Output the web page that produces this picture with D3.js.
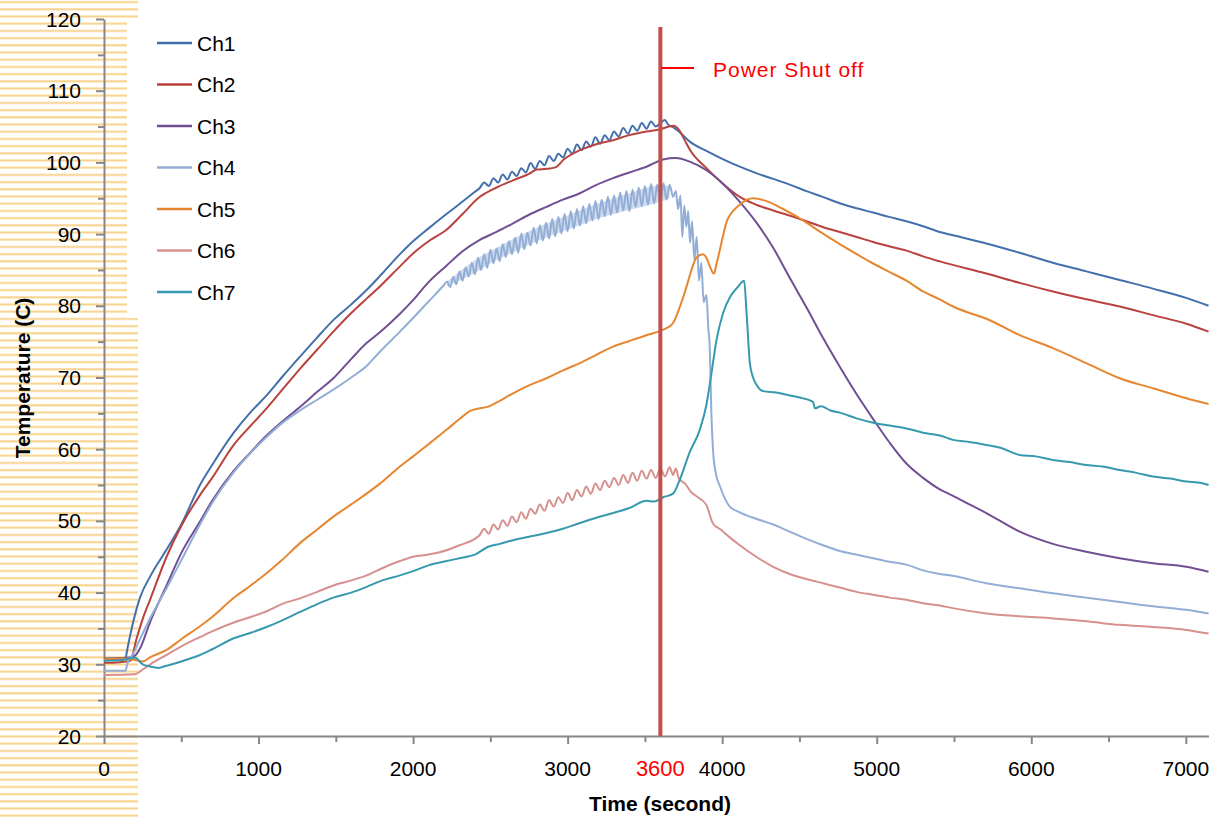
<!DOCTYPE html>
<html>
<head>
<meta charset="utf-8">
<script src="https://cdn.jsdelivr.net/npm/d3@7"></script>
<style>
html,body{margin:0;padding:0;background:#fff;}
svg{display:block;font-family:"Liberation Sans",Arial,sans-serif;}
</style>
</head>
<body>
<svg id="chart" width="1209" height="817"></svg>
<script>
// ---------------- DATA ----------------
const seriesNames = ["Ch1","Ch2","Ch3","Ch4","Ch5","Ch6","Ch7"];
const xTickValues = [0,1000,2000,3000,4000,5000,6000,7000];
const yTickValues = [20,30,40,50,60,70,80,90,100,110,120];
const shutOffTime = 3600;
const shutOffLabel = "Power Shut off";
const xTitle = "Time (second)";
const yTitle = "Temperature (C)";

const ch1 = [[0,30.6],[100,30.7],[140,30.9],[150,32.0],[190,36.0],[233,39.3],[300,42.3],[405,46.0],[500,49.5],[621,55.0],[700,57.8],[836,62.2],[950,65.2],[1052,67.5],[1150,70.0],[1268,72.9],[1380,75.6],[1484,78.0],[1600,80.2],[1699,82.2],[1800,84.5],[1915,87.2],[2000,89.0],[2100,90.8],[2216,92.8],[2300,94.2],[2400,95.9],[2430,96.4],[2460,97.2],[2490,96.7],[2520,97.8],[2550,97.2],[2580,98.3],[2610,97.6],[2640,98.7],[2670,98.1],[2700,99.2],[2730,98.6],[2760,99.9],[2790,99.1],[2820,100.2],[2850,99.6],[2880,100.9],[2910,100.2],[2940,101.2],[2970,100.7],[3000,101.9],[3030,101.2],[3060,102.5],[3090,101.7],[3120,102.9],[3150,102.2],[3180,103.5],[3210,102.6],[3240,103.8],[3270,103.1],[3300,104.3],[3330,103.6],[3360,104.8],[3390,104.0],[3420,105.1],[3450,104.4],[3480,105.5],[3510,104.7],[3540,105.7],[3570,105.0],[3600,105.5],[3629,105.9],[3650,105.3],[3682,104.9],[3720,104.3],[3790,102.9],[3898,101.6],[4000,100.5],[4114,99.4],[4220,98.5],[4330,97.7],[4450,96.8],[4545,96.0],[4650,95.2],[4761,94.3],[4870,93.6],[4977,93.0],[5080,92.4],[5192,91.8],[5300,91.1],[5408,90.3],[5500,89.8],[5709,88.7],[5925,87.4],[6140,86.0],[6356,84.8],[6572,83.6],[6787,82.4],[7003,81.1],[7147,80.0]];

const ch2 = [[0,30.2],[100,30.3],[170,30.5],[211,33.6],[250,36.3],[298,39.0],[405,45.0],[500,49.3],[621,53.6],[700,56.0],[836,60.5],[950,63.3],[1052,65.7],[1150,68.2],[1268,71.2],[1380,73.9],[1484,76.4],[1600,79.0],[1699,81.0],[1785,82.7],[1915,85.5],[2000,87.3],[2100,89.0],[2216,90.6],[2320,92.8],[2432,95.2],[2540,96.5],[2647,97.5],[2750,98.4],[2800,99.0],[2863,99.1],[2920,99.3],[2980,100.5],[3079,101.7],[3180,102.5],[3294,103.1],[3400,103.8],[3510,104.3],[3596,104.6],[3682,105.1],[3725,104.4],[3760,103.0],[3790,101.8],[3898,99.2],[4006,97.0],[4114,95.2],[4220,94.1],[4330,93.3],[4450,92.5],[4545,91.8],[4650,91.0],[4761,90.3],[4870,89.6],[4977,88.9],[5080,88.3],[5192,87.7],[5300,86.9],[5408,86.2],[5709,84.5],[5925,83.2],[6140,82.0],[6356,80.9],[6572,79.9],[6787,78.7],[7003,77.5],[7147,76.4]];

const ch3 = [[0,30.8],[150,30.9],[200,31.2],[233,32.2],[300,36.0],[405,41.0],[500,45.5],[621,49.9],[700,52.8],[836,56.9],[950,59.6],[1052,61.9],[1150,63.8],[1268,65.9],[1380,68.0],[1484,69.9],[1600,72.6],[1699,74.8],[1785,76.3],[1915,78.9],[2000,80.8],[2100,83.3],[2216,85.6],[2320,87.6],[2432,89.2],[2540,90.3],[2647,91.5],[2750,92.7],[2863,93.8],[2970,94.8],[3079,95.7],[3180,96.8],[3294,97.8],[3400,98.6],[3510,99.4],[3618,100.4],[3700,100.6],[3790,100.1],[3898,98.9],[4006,97.0],[4114,94.5],[4222,91.6],[4330,88.1],[4437,83.9],[4545,79.8],[4653,75.5],[4761,71.5],[4869,67.7],[4977,64.2],[5084,60.9],[5192,58.0],[5300,56.0],[5408,54.4],[5494,53.5],[5600,52.3],[5709,51.1],[5925,48.5],[6140,46.8],[6356,45.7],[6572,44.8],[6787,44.1],[7003,43.6],[7147,42.9]];

const ch4 = [[0,29.1],[140,29.1],[150,30.0],[190,31.5],[233,33.5],[300,36.5],[405,40.6],[500,44.5],[621,49.5],[700,52.5],[836,56.7],[950,59.5],[1052,61.7],[1150,63.6],[1268,65.4],[1380,66.9],[1484,68.3],[1600,70.0],[1699,71.6],[1785,73.6],[1915,76.4],[2000,78.3],[2100,80.6],[2200,82.9],[2220,83.4],[2240,82.6],[2260,84.0],[2280,83.0],[2300,84.8],[2320,83.5],[2340,85.3],[2360,84.1],[2380,86.0],[2400,84.4],[2420,86.7],[2440,85.0],[2460,87.2],[2480,85.3],[2500,87.8],[2520,85.9],[2540,88.0],[2560,86.2],[2580,88.6],[2600,86.8],[2620,89.0],[2640,87.2],[2660,89.5],[2680,87.4],[2700,90.1],[2720,87.9],[2740,90.2],[2760,88.4],[2780,90.9],[2800,88.7],[2820,91.2],[2840,89.1],[2860,91.6],[2880,89.4],[2900,92.1],[2920,89.7],[2940,92.4],[2960,90.1],[2980,92.8],[3000,90.4],[3020,93.2],[3040,90.8],[3060,93.5],[3080,91.2],[3100,93.9],[3120,91.5],[3140,94.2],[3160,91.9],[3180,94.6],[3200,92.1],[3220,94.8],[3240,92.5],[3260,95.2],[3280,92.7],[3300,95.4],[3320,93.0],[3340,95.8],[3360,93.3],[3380,96.0],[3400,93.2],[3420,96.2],[3440,93.8],[3460,96.5],[3480,93.9],[3500,96.7],[3520,94.1],[3540,97.0],[3560,94.3],[3580,96.9],[3600,94.5],[3620,97.1],[3640,94.8],[3660,96.9],[3682,95.2],[3700,96.0],[3715,93.5],[3730,95.4],[3742,89.6],[3755,94.0],[3768,91.0],[3780,93.2],[3792,88.8],[3805,91.8],[3820,86.5],[3835,89.6],[3850,83.5],[3865,86.0],[3880,80.5],[3898,81.5],[3910,77.0],[3920,74.0],[3930,65.0],[3941,59.8],[3960,56.5],[3984,54.9],[4049,52.0],[4114,51.2],[4220,50.3],[4330,49.5],[4437,48.5],[4545,47.5],[4653,46.6],[4761,45.8],[4869,45.3],[4977,44.8],[5084,44.3],[5192,43.9],[5300,43.1],[5408,42.6],[5500,42.3],[5709,41.3],[5925,40.6],[6140,39.9],[6356,39.3],[6572,38.7],[6787,38.1],[7003,37.6],[7147,37.1]];
// noise envelope of Ch4 [time, low, high]
const ch4Band = [[2220,82.8,83.4],[2300,83.5,84.8],[2400,84.6,86.4],[2500,85.9,87.6],[2600,87.0,88.8],[2700,88.0,89.9],[2800,89.0,90.9],[2900,89.8,91.8],[3000,90.6,92.6],[3100,91.4,93.5],[3200,92.2,94.3],[3300,92.8,95.0],[3400,93.4,95.7],[3500,93.9,96.4],[3600,94.5,96.8],[3660,95.0,96.7]];

const ch5 = [[0,30.7],[150,30.8],[200,30.6],[250,30.4],[300,31.0],[405,32.0],[500,33.5],[621,35.3],[700,36.6],[836,39.2],[950,41.0],[1052,42.7],[1150,44.5],[1268,46.9],[1380,48.8],[1484,50.6],[1600,52.3],[1699,53.8],[1785,55.2],[1915,57.6],[2000,59.0],[2100,60.7],[2216,62.7],[2300,64.2],[2367,65.3],[2432,65.7],[2480,65.9],[2539,66.5],[2647,67.8],[2750,68.9],[2863,69.9],[2970,71.0],[3079,72.0],[3180,73.1],[3294,74.3],[3400,75.1],[3510,75.9],[3600,76.5],[3650,77.0],[3682,77.6],[3725,79.8],[3760,82.0],[3790,84.2],[3833,86.7],[3876,87.2],[3900,86.6],[3920,85.5],[3946,84.5],[3965,86.0],[3984,87.7],[4006,89.8],[4027,91.6],[4070,93.2],[4114,94.1],[4160,94.8],[4200,95.0],[4287,94.6],[4394,93.5],[4470,92.6],[4545,91.6],[4650,90.1],[4761,88.6],[4870,87.2],[4977,85.9],[5084,84.7],[5192,83.5],[5300,82.0],[5408,80.9],[5494,79.9],[5600,79.0],[5709,78.2],[5925,75.9],[6140,74.1],[6356,72.0],[6572,69.9],[6787,68.5],[7003,67.1],[7147,66.3]];

const ch6 = [[0,28.5],[200,28.6],[233,29.0],[300,30.0],[405,31.3],[500,32.5],[621,33.8],[700,34.6],[836,35.8],[950,36.6],[1052,37.4],[1150,38.4],[1268,39.2],[1380,40.1],[1484,41.0],[1600,41.7],[1699,42.4],[1800,43.4],[1915,44.4],[2000,45.0],[2100,45.3],[2216,45.9],[2300,46.6],[2400,47.5],[2430,48.0],[2460,48.9],[2490,48.2],[2520,49.5],[2550,48.8],[2580,50.1],[2610,49.3],[2640,50.6],[2670,49.8],[2700,51.2],[2730,50.3],[2760,51.7],[2790,51.0],[2820,52.3],[2850,51.4],[2880,52.9],[2910,52.0],[2940,53.3],[2970,52.5],[3000,53.9],[3030,52.9],[3060,54.3],[3090,53.4],[3120,54.8],[3150,53.8],[3180,55.2],[3210,54.3],[3240,55.6],[3270,54.7],[3300,56.0],[3330,55.0],[3360,56.4],[3390,55.3],[3420,56.7],[3450,55.6],[3480,57.0],[3510,55.9],[3540,57.1],[3570,56.0],[3600,57.3],[3630,56.2],[3660,57.5],[3682,56.4],[3700,57.3],[3720,55.9],[3760,55.2],[3800,54.0],[3850,53.2],[3898,52.2],[3941,49.6],[3990,48.8],[4049,47.7],[4114,46.6],[4220,45.0],[4330,43.6],[4437,42.6],[4545,41.9],[4653,41.3],[4761,40.7],[4869,40.1],[4977,39.7],[5084,39.3],[5192,39.0],[5300,38.5],[5408,38.2],[5500,37.8],[5709,37.1],[5925,36.7],[6140,36.4],[6356,36.0],[6572,35.5],[6787,35.2],[7003,34.8],[7147,34.3]];

const ch7 = [[0,30.5],[120,30.6],[160,30.8],[200,30.9],[250,30.0],[298,29.7],[350,29.5],[405,29.8],[500,30.4],[621,31.3],[700,32.1],[836,33.6],[950,34.4],[1052,35.2],[1150,36.1],[1268,37.3],[1380,38.4],[1484,39.3],[1600,40.0],[1699,40.8],[1800,41.7],[1915,42.4],[2000,43.0],[2100,43.8],[2216,44.4],[2324,44.9],[2400,45.3],[2486,46.4],[2560,46.8],[2647,47.3],[2750,47.8],[2863,48.3],[2970,48.9],[3079,49.7],[3180,50.4],[3294,51.1],[3400,51.8],[3510,52.8],[3560,52.7],[3618,53.3],[3682,53.8],[3725,55.7],[3790,59.6],[3855,62.7],[3898,66.2],[3930,70.5],[3963,75.2],[4006,79.0],[4050,81.2],[4100,82.6],[4142,83.5],[4157,79.3],[4179,72.0],[4200,70.0],[4222,69.0],[4265,68.1],[4350,67.9],[4437,67.5],[4500,67.2],[4588,66.6],[4600,65.7],[4640,66.0],[4700,65.4],[4761,65.1],[4870,64.3],[4977,63.7],[5084,63.3],[5192,62.9],[5300,62.3],[5408,61.9],[5494,61.3],[5600,61.0],[5709,60.6],[5800,60.2],[5925,59.2],[6030,59.0],[6140,58.5],[6250,58.2],[6356,57.8],[6460,57.6],[6572,57.1],[6680,56.7],[6787,56.2],[6900,55.9],[7003,55.5],[7100,55.3],[7147,55.0]];

const seriesData = [ch1, ch2, ch3, ch4, ch5, ch6, ch7];
const seriesColors = ["#4370AC","#B9423F","#704F93","#93AED6","#E6862F","#D6908E","#3799AE"];

// ---------------- DRAW ----------------
const svg = d3.select("#chart");
const x = d3.scaleLinear().domain([0, 7150]).range([104, 1209]);
const y = d3.scaleLinear().domain([20, 120]).range([736, 19]);

// striped background at left edge
const defs = svg.append("defs");
const pat = defs.append("pattern").attr("id","stripes").attr("patternUnits","userSpaceOnUse")
  .attr("width", 10).attr("height", 7.2);
pat.append("rect").attr("x",0).attr("y",0).attr("width",10).attr("height",7.2).attr("fill","#fff");
pat.append("rect").attr("x",0).attr("y",0.8).attr("width",10).attr("height",2.6).attr("fill","#FDF0D6");
pat.append("rect").attr("x",0).attr("y",1.3).attr("width",10).attr("height",1.6).attr("fill","#F8D088");
const bg = svg.append("g");
bg.append("rect").attr("x",0).attr("y",0).attr("width",127).attr("height",318).attr("fill","url(#stripes)");
bg.append("rect").attr("x",0).attr("y",0).attr("width",138).attr("height",19).attr("fill","url(#stripes)");
bg.append("rect").attr("x",0).attr("y",318).attr("width",138).attr("height",499).attr("fill","url(#stripes)");

// axes
const axisColor = "#878787";
const yMinor = d3.range(25, 120, 10);
const xMinor = d3.range(500, 7150, 1000);

const gy = svg.append("g").attr("transform", `translate(${x(0)},0)`)
  .call(d3.axisLeft(y).tickValues(yTickValues).tickSize(8).tickSizeOuter(0).tickFormat(""));
const gyMinor = svg.append("g").attr("transform", `translate(${x(0)},0)`)
  .call(d3.axisLeft(y).tickValues(yMinor).tickSize(6).tickSizeOuter(0).tickFormat(""));
gyMinor.select(".domain").remove();
const gx = svg.append("g").attr("transform", `translate(0,${y(20)})`)
  .call(d3.axisBottom(x).tickValues(xTickValues).tickSize(8).tickSizeOuter(0).tickFormat(""));
const gxMinor = svg.append("g").attr("transform", `translate(0,${y(20)})`)
  .call(d3.axisBottom(x).tickValues(xMinor).tickSize(6).tickSizeOuter(0).tickFormat(""));
gxMinor.select(".domain").remove();
[gy, gyMinor, gx, gxMinor].forEach(g => {
  g.selectAll("path.domain").attr("stroke", axisColor).attr("stroke-width", 2);
  g.selectAll(".tick line").attr("stroke", axisColor).attr("stroke-width", 2);
});

// tick labels
svg.append("g").selectAll("text").data(yTickValues).join("text")
  .attr("x", 81).attr("y", d => y(d)).attr("dy", "0.36em")
  .attr("text-anchor", "end").attr("font-size", 21).attr("fill", "#000")
  .text(d => d);
svg.append("g").selectAll("text").data(xTickValues).join("text")
  .attr("x", d => x(d)).attr("y", 768).attr("dy", "0.36em")
  .attr("text-anchor", "middle").attr("font-size", 21).attr("fill", "#000")
  .text(d => d);
svg.append("text").attr("x", x(shutOffTime)).attr("y", 768).attr("dy", "0.36em")
  .attr("text-anchor", "middle").attr("font-size", 22).attr("fill", "#FF0000")
  .text(shutOffTime);

// axis titles
svg.append("text").attr("x", 660).attr("y", 803).attr("dy", "0.36em")
  .attr("text-anchor", "middle").attr("font-size", 21).attr("font-weight", "bold")
  .text(xTitle);
svg.append("text").attr("transform", "translate(22,378) rotate(-90)").attr("dy", "0.36em")
  .attr("text-anchor", "middle").attr("font-size", 21).attr("font-weight", "bold")
  .text(yTitle);

// faint fill of the Ch4 noise band
const area = d3.area().x(d => x(d[0])).y0(d => y(d[1])).y1(d => y(d[2])).curve(d3.curveMonotoneX);
svg.append("path").attr("d", area(ch4Band))
  .attr("fill", seriesColors[3]).attr("fill-opacity", 0.45);

// series
const line = d3.line().x(d => x(d[0])).y(d => y(d[1])).curve(d3.curveMonotoneX);
svg.append("g").selectAll("path").data(seriesData).join("path")
  .attr("d", line).attr("fill", "none")
  .attr("stroke", (d, i) => seriesColors[i])
  .attr("stroke-width", 2).attr("stroke-linejoin", "round");

// power shut off line
svg.append("line").attr("x1", x(shutOffTime)).attr("x2", x(shutOffTime))
  .attr("y1", 27).attr("y2", y(20)).attr("stroke", "#C0504D").attr("stroke-width", 4);
svg.append("line").attr("x1", x(shutOffTime) + 1).attr("x2", 694)
  .attr("y1", 68).attr("y2", 68).attr("stroke", "#FF0000").attr("stroke-width", 2);
svg.append("text").attr("x", 713).attr("y", 69).attr("dy", "0.36em")
  .attr("font-size", 21).attr("letter-spacing", 1).attr("fill", "#FF0000")
  .text(shutOffLabel);

// legend
const lg = svg.append("g");
seriesNames.forEach((name, i) => {
  const yy = 43 + i * 41.5;
  lg.append("line").attr("x1", 157).attr("x2", 192).attr("y1", yy).attr("y2", yy)
    .attr("stroke", seriesColors[i]).attr("stroke-width", 2.5);
  lg.append("text").attr("x", 197).attr("y", yy).attr("dy", "0.36em")
    .attr("font-size", 21).attr("fill", "#000").text(name);
});
</script>
</body>
</html>
